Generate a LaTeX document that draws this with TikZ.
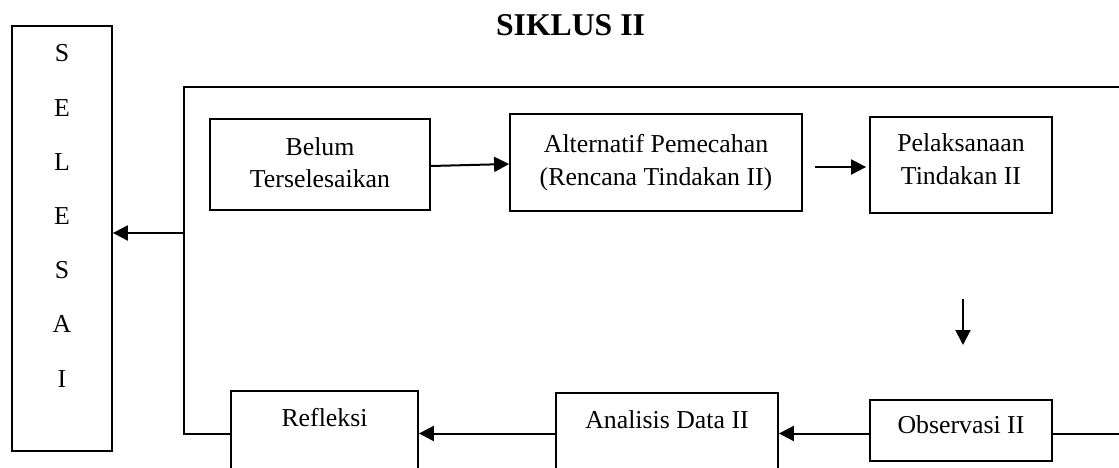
\documentclass[tikz,border=0pt]{standalone}
\usepackage{fontspec}
\setmainfont{Liberation Serif}
\usetikzlibrary{arrows.meta,calc}
\newcommand{\bodyfont}{\fontsize{25.8pt}{32.5pt}\selectfont}
\newcommand{\titlefont}{\fontsize{31.7pt}{36pt}\selectfont\bfseries}
\newcommand{\letterfont}{\fontsize{25.8pt}{54.2pt}\selectfont}
\tikzset{
  flowbox/.style={draw, line width=1.8pt, inner sep=0pt, align=center, font=\bodyfont},
  openbox/.style={flowbox, anchor=north, inner sep=0pt},
  conn/.style={line width=2pt},
  arr/.style={conn, -{Triangle[length=15pt,width=15pt]}},
}
\begin{document}
\begin{tikzpicture}[x=1pt,y=-1pt]
\useasboundingbox (0,0) rectangle (1119,468);
\clip (0,0) rectangle (1119,468);
% title
\node[font=\titlefont, anchor=base, inner sep=0pt] (title) at (570.5,36) {SIKLUS II};
% SELESAI
\node[draw, line width=1.8pt, minimum width=100pt, minimum height=425pt, inner sep=0pt] (selesai) at (62,238.5) {};
\node[font=\letterfont, align=center, anchor=north, inner sep=0pt] (selesaitxt) at (62,44.6) {S\\E\\L\\E\\S\\A\\I};
% top row
\node[flowbox, minimum width=220pt, minimum height=91pt] (belum) at (320,164.5) {Belum\\Terselesaikan\rule[-4pt]{0pt}{0pt}};
\node[flowbox, minimum width=292pt, minimum height=97pt] (alt) at (656,162.5) {Alternatif Pemecahan\\(Rencana Tindakan II)};
\node[flowbox, minimum width=182pt, minimum height=96pt] (pel) at (961,165) {Pelaksanaan\\Tindakan II\rule[-12pt]{0pt}{0pt}};
% bottom row
\node[openbox, minimum width=182pt, text height=34pt, text depth=27pt] (obs) at (961,399) {Observasi II};
\node[openbox, minimum width=222pt, text height=36pt, text depth=72pt] (ana) at (667,392) {Analisis Data II};
\node[openbox, minimum width=187pt, text height=36pt, text depth=74pt] (ref) at (324.5,390) {Refleksi};
% frame coordinates
\coordinate (bot) at (0,433.5);
\coordinate (fbl) at (184,433.5);
\coordinate (ftl) at (184,87);
\coordinate (ftr) at (1119,87);
\coordinate (fbr) at (1119,433.5);
\coordinate (junc) at (184,233);
% frame
\draw[conn, line join=miter] (ref.west |- bot) -- (fbl) -- (ftl) -- (ftr);
\draw[conn] (obs.east |- bot) -- (fbr);
% arrows
\draw[arr] (junc) -- (selesai.east |- junc);
\draw[arr] ([yshift=-1.5pt]belum.east) -- ([yshift=-1.5pt]alt.west);
\draw[arr] ([xshift=12pt,yshift=-2pt]alt.east |- pel.west) -- ([xshift=-3pt,yshift=-2pt]pel.west);
\draw[arr, shorten <=85pt, shorten >=54pt] ([xshift=2pt]pel.south) -- ([xshift=2pt]obs.north);
\draw[arr] (obs.west |- bot) -- (ana.east |- bot);
\draw[arr] (ana.west |- bot) -- (ref.east |- bot);
\end{tikzpicture}
\end{document}
